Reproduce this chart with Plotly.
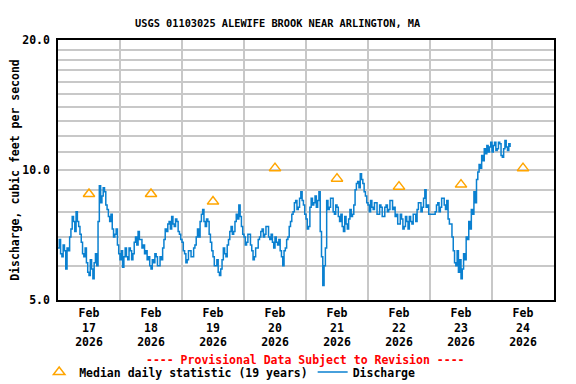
import plotly.graph_objects as go
import pandas as pd

# ---- data -------------------------------------------------------------
title_text = "USGS 01103025 ALEWIFE BROOK NEAR ARLINGTON, MA"
start_time = "2026-02-17 00:00"
# half-hourly discharge (cfs)
discharge = [
    # Feb 17
    6.6, 6.9, 6.4, 6.3, 6.7, 6.5, 5.9, 6.6, 6.5, 7.0, 7.3, 7.8,
    7.6, 7.2, 8.0, 7.6, 7.4, 7.1, 6.8, 6.4, 6.3, 6.6, 6.1, 5.8,
    5.7, 6.2, 5.9, 5.6, 6.1, 6.4, 6.0, 7.6, 9.2, 8.4, 8.7, 9.1,
    8.9, 8.3, 8.1, 7.8, 7.6, 7.9, 7.3, 7.0, 7.1, 7.3, 6.7, 6.4,
    # Feb 18
    6.2, 6.5, 5.95, 6.3, 6.6, 6.3, 6.2, 6.6, 6.5, 6.2, 6.4, 6.8,
    7.0, 6.7, 7.2, 6.9, 6.9, 6.6, 6.7, 6.4, 6.5, 6.2, 6.3, 6.0,
    5.9, 6.2, 6.1, 6.4, 6.3, 6.0, 6.0, 6.3, 6.2, 6.6, 6.9, 7.3,
    7.2, 7.5, 7.6, 7.3, 7.8, 7.5, 7.4, 7.7, 7.6, 7.2, 7.1, 6.9,
    # Feb 19
    6.8, 6.5, 6.4, 6.1, 6.2, 6.5, 6.5, 6.3, 6.3, 6.6, 6.7, 7.0,
    7.3, 7.0, 7.6, 7.9, 8.1, 7.6, 7.4, 7.7, 7.6, 7.1, 6.8, 6.5,
    6.3, 6.0, 6.0, 6.2, 5.8, 5.7, 5.9, 6.2, 6.6, 6.4, 6.3, 6.7,
    6.9, 7.2, 7.4, 7.1, 7.2, 7.6, 7.9, 7.7, 8.3, 7.8, 7.4, 7.1,
    # Feb 20
    7.0, 6.7, 6.8, 7.1, 7.1, 6.7, 6.5, 6.2, 6.3, 6.6, 6.6, 6.9,
    7.0, 7.2, 7.3, 7.0, 7.1, 7.4, 7.4, 7.0, 6.9, 7.1, 6.8, 6.6,
    7.0, 6.8, 6.7, 6.9, 6.5, 6.3, 6.0, 6.5, 6.6, 6.9, 7.0, 7.4,
    7.6, 7.9, 8.0, 8.4, 8.5, 8.1, 8.2, 8.6, 8.9, 8.5, 8.3, 7.9,
    # Feb 21
    7.7, 7.3, 7.4, 8.2, 8.6, 8.3, 8.4, 8.7, 8.2, 8.5, 8.9, 7.2,
    6.3, 5.4, 6.0, 6.6, 8.5, 8.1, 8.2, 8.6, 8.6, 8.0, 7.9, 8.3,
    8.2, 7.8, 7.6, 7.9, 7.4, 7.2, 7.8, 7.5, 7.3, 7.7, 8.1, 7.8,
    7.9, 8.3, 9.0, 9.3, 9.4, 9.1, 9.8, 9.5, 9.3, 8.9, 8.7, 8.4,
    # Feb 22
    8.3, 8.0, 8.5, 8.2, 8.1, 8.4, 8.4, 7.9, 7.9, 8.3, 8.2, 7.8,
    7.8, 8.2, 8.3, 8.0, 8.1, 8.5, 8.5, 8.1, 8.2, 7.8, 7.9, 7.5,
    7.5, 7.9, 7.7, 7.3, 7.4, 7.8, 7.6, 7.3, 7.8, 7.6, 7.5, 7.9,
    7.9, 7.6, 8.1, 8.4, 8.4, 8.0, 8.2, 8.6, 9.0, 8.2, 8.3, 7.9,
    # Feb 23
    7.9, 7.9, 7.9, 7.9, 8.0, 8.3, 8.4, 8.0, 8.2, 8.6, 8.6, 8.3,
    8.1, 8.5, 7.7, 7.5, 7.5, 7.0, 6.5, 6.1, 6.0, 6.5, 5.8, 6.2,
    5.6, 5.9, 6.4, 6.2, 7.0, 6.9, 7.6, 7.3, 8.1, 7.9, 8.9, 8.4,
    9.5, 9.9, 10.3, 10.1, 10.8, 10.5, 11.2, 10.9, 11.4, 11.0, 11.3, 11.6,
    # Feb 24
    11.0, 11.4, 11.6, 11.1, 11.2, 11.6, 11.5, 10.8, 10.7, 11.2, 11.7, 11.3,
    11.1, 11.5, 11.3,
]
median_days = ["2026-02-17 12:00", "2026-02-18 12:00", "2026-02-19 12:00",
               "2026-02-20 12:00", "2026-02-21 12:00", "2026-02-22 12:00",
               "2026-02-23 12:00", "2026-02-24 12:00"]
median_values = [8.8, 8.8, 8.45, 10.1, 9.55, 9.15, 9.25, 10.1]
tick_days = median_days
tick_labels = ["Feb<br>17<br>2026", "Feb<br>18<br>2026", "Feb<br>19<br>2026",
               "Feb<br>20<br>2026", "Feb<br>21<br>2026", "Feb<br>22<br>2026",
               "Feb<br>23<br>2026", "Feb<br>24<br>2026"]
day_lines = ["2026-02-18", "2026-02-19", "2026-02-20", "2026-02-21",
             "2026-02-22", "2026-02-23", "2026-02-24"]
y_ticks = [5, 10, 20]
y_tick_labels = ["5.0", "10.0", "20.0"]
y_minor = [6, 7, 8, 9, 11, 12, 13, 14, 15, 16, 17, 18, 19]

times = pd.date_range(start_time, periods=len(discharge), freq="30min")

FONT = "DejaVu Sans Mono"

fig = go.Figure()
fig.add_trace(go.Scatter(
    x=median_days, y=median_values, mode="markers",
    name="<b>Median daily statistic (19 years)</b>",
    marker=dict(symbol="triangle-up-open", size=10, color="#FFA500",
                line=dict(width=1.5, color="#FFA500")),
))
fig.add_trace(go.Scatter(
    x=times, y=discharge, mode="lines", name="<b>Discharge</b>",
    line=dict(color="#0A80D0", width=1.5, shape="hv"),
))

fig.update_layout(
    width=576, height=384,
    margin=dict(l=58, r=22, t=40, b=84),
    paper_bgcolor="white", plot_bgcolor="white",
    font=dict(family=FONT, size=11.5, color="black"),
    title=dict(text="<b>" + title_text + "</b>", x=0.482, xanchor="center",
               y=0.94, yanchor="middle", font=dict(family=FONT, size=10.3)),
    showlegend=True,
    legend=dict(orientation="h", xref="container", yref="container",
                x=0.068, xanchor="left", y=0.031, yanchor="middle",
                font=dict(family=FONT, size=11.5),
                itemwidth=30, tracegroupgap=0, bgcolor="rgba(0,0,0,0)"),
    annotations=[dict(
        text="<b>---- Provisional Data Subject to Revision ----</b>",
        xref="paper", yref="paper", x=0.498, y=-0.23, xanchor="center",
        yanchor="middle", showarrow=False,
        font=dict(family=FONT, size=11.5, color="#FF0000"))],
)

fig.update_xaxes(
    type="date", range=["2026-02-17", "2026-02-25"], automargin=False,
    tickmode="array", tickvals=tick_days,
    ticktext=["<b>%s</b>" % t for t in tick_labels],
    tickfont=dict(family=FONT, size=11.5), ticklabelstandoff=1,
    showgrid=False,
    minor=dict(tickmode="array", tickvals=day_lines, showgrid=True,
               gridcolor="#C8C8C8", gridwidth=1.5, ticks=""),
    showline=True, linecolor="black", linewidth=1.5, mirror=True,
    ticks="", zeroline=False,
)
fig.update_yaxes(
    type="log", range=[0.69897, 1.30103], automargin=False,
    tickmode="array", tickvals=y_ticks,
    ticktext=["<b>%s</b>" % t for t in y_tick_labels],
    tickfont=dict(family=FONT, size=11.5), ticklabelstandoff=4,
    showgrid=True, gridcolor="#C8C8C8", gridwidth=1.5,
    minor=dict(tickmode="array", tickvals=y_minor, showgrid=True,
               gridcolor="#C8C8C8", gridwidth=1.5, ticks=""),
    showline=True, linecolor="black", linewidth=1.5, mirror=True,
    ticks="", zeroline=False,
    title=dict(text="<b>Discharge, cubic feet per second</b>",
               font=dict(family=FONT, size=11.5), standoff=0),
)

fig.write_html("out.html", config={"displayModeBar": False},
               post_script="document.body.style.margin='0';")
